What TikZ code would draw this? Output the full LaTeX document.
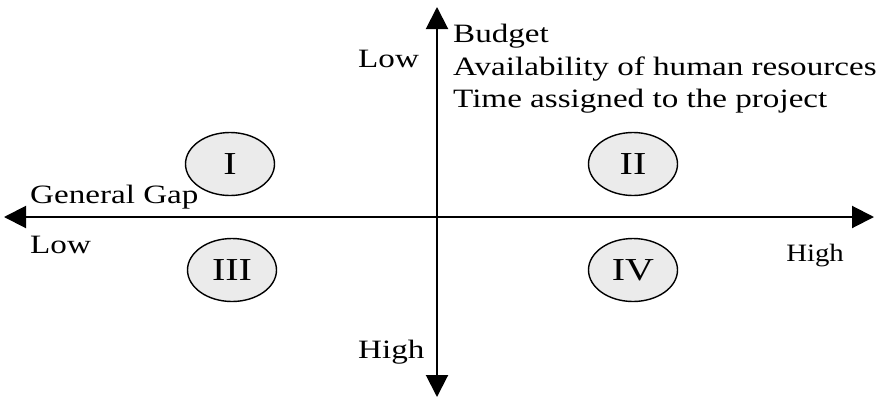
\documentclass[tikz,border=0pt]{standalone}
\usepackage{fontspec}
\setmainfont{Liberation Serif}
\usetikzlibrary{arrows.meta,shapes.geometric}
\newcommand{\hs}[1]{\scalebox{1.25}[1]{#1}}
\tikzset{
  axis/.style={line width=2pt,-{Triangle[length=22pt,width=22pt]}},
  quad/.style={ellipse,draw,line width=1.4pt,fill=black!8,minimum width=89pt,minimum height=63pt,inner sep=0pt,font=\fontsize{32}{38}\selectfont},
  lbl/.style={inner sep=0pt,font=\fontsize{26.5}{32}\selectfont},
  lbls/.style={inner sep=0pt,font=\fontsize{25}{30}\selectfont}
}
\begin{document}
\begin{tikzpicture}[x=1pt,y=-1pt]
\useasboundingbox (0,0) rectangle (882,407);
\coordinate (o) at (437,217);
\coordinate (left) at (4,217);
\coordinate (right) at (874,217);
\coordinate (top) at (437,7);
\coordinate (bottom) at (437,397);
\draw[axis] (o) -- (left);
\draw[axis] (o) -- (right);
\draw[axis] (o) -- (top);
\draw[axis] (o) -- (bottom);
\node[quad] (q1) at (230,164) {\hs{I}};
\node[quad] (q2) at (633,164) {\hs{II}};
\node[quad] (q3) at (232,270) {\hs{III}};
\node[quad] (q4) at (633,270) {\hs{IV}};
\node[lbl,anchor=base west] (lowy) at (358,67) {\hs{Low}};
\node[lbl,anchor=base west] (highy) at (358,358) {\hs{High}};
\node[lbl,anchor=base west] (gap) at (30,203) {\hs{General Gap}};
\node[lbl,anchor=base west] (lowx) at (30,253) {\hs{Low}};
\node[lbls,anchor=base east] (highx) at (844,261) {\scalebox{1.15}[1]{High}};
\node[lbl,anchor=base west] (b1) at (453,42) {\hs{Budget}};
\node[lbl,anchor=base west] (b2) at (453,75) {\hs{Availability of human resources}};
\node[lbl,anchor=base west] (b3) at (453,107) {\hs{Time assigned to the project}};
\end{tikzpicture}
\end{document}
